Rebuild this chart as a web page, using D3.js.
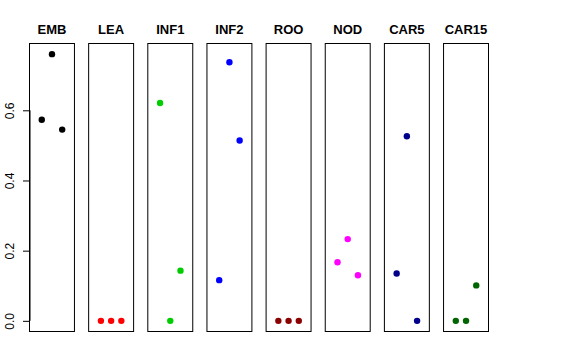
<!DOCTYPE html>
<html>
<head>
<meta charset="utf-8">
<script src="https://cdn.jsdelivr.net/npm/d3@7"></script>
<style>
  body { margin: 0; background: #fff; }
  svg { display: block; font-family: "Liberation Sans", Arial, sans-serif; }
</style>
</head>
<body>
<figure id="strip-chart" style="margin:0"></figure>
<script>
// panels, one per tissue
const categories = ["EMB", "LEA", "INF1", "INF2", "ROO", "NOD", "CAR5", "CAR15"];
const colors = ["#000000", "#FF0000", "#00CD00", "#0000FF", "#8B0000", "#FF00FF", "#00008B", "#006400"];

// three replicates per tissue
const EMB = [0.573, 0.760, 0.545];
const LEA = [0, 0, 0];
const INF1 = [0.621, 0, 0.143];
const INF2 = [0.116, 0.737, 0.514];
const ROO = [0, 0, 0];
const NOD = [0.167, 0.233, 0.130];
const CAR5 = [0.135, 0.526, 0];
const CAR15 = [0, 0, 0.101];
const seriesValues = [EMB, LEA, INF1, INF2, ROO, NOD, CAR5, CAR15];

const yTicks = [0, 0.2, 0.4, 0.6];
const yTickLabels = ["0.0", "0.2", "0.4", "0.6"];

const width = 576, height = 360;
const plotTop = 43.5, plotBottom = 331.5;

const svg = d3.select("figure#strip-chart")
  .append("svg")
  .attr("width", width)
  .attr("height", height);

// shared y scale, R-style 4% padding
const yMax = d3.max(seriesValues, s => d3.max(s));
const pad = yMax * 0.04;
const yScale = d3.scaleLinear()
  .domain([-pad, yMax + pad])
  .range([plotBottom, plotTop]);

const panelScale = d3.scaleBand()
  .domain(categories)
  .range([29.5, 488.5])
  .paddingInner(0.24)
  .paddingOuter(0);

const bw = panelScale.bandwidth();
const innerX = d3.scaleLinear().domain([-0.2, 4.2]).range([0, bw]);

categories.forEach((cat, i) => {
  const g = svg.append("g")
    .attr("transform", "translate(" + panelScale(cat) + ",0)");

  g.append("rect")
    .attr("x", 0)
    .attr("y", plotTop)
    .attr("width", bw)
    .attr("height", plotBottom - plotTop)
    .attr("fill", "none")
    .attr("stroke", "#000")
    .attr("stroke-width", 1);

  g.append("text")
    .attr("x", bw / 2)
    .attr("y", 34)
    .attr("text-anchor", "middle")
    .style("font-weight", "bold")
    .style("font-size", "13px")
    .text(cat);

  g.selectAll("circle")
    .data(seriesValues[i])
    .enter()
    .append("circle")
    .attr("cx", (d, j) => innerX(j + 1))
    .attr("cy", d => yScale(d))
    .attr("r", 3.2)
    .attr("fill", colors[i]);
});

// y axis on the first panel only
const yAxis = svg.append("g")
  .attr("transform", "translate(" + Math.round(panelScale(categories[0])) + ",0)")
  .call(d3.axisLeft(yScale)
    .tickValues(yTicks)
    .tickFormat((d, i) => yTickLabels[i])
    .tickSize(7)
    .tickPadding(6));

yAxis.select(".domain")
  .attr("d", "M0," + yScale(yTicks[0]) + "V" + yScale(yTicks[yTicks.length - 1]));
yAxis.selectAll("line").attr("stroke", "#000");
yAxis.selectAll("text")
  .attr("transform", "rotate(-90)")
  .attr("x", 0)
  .attr("y", 0)
  .attr("dx", 0)
  .attr("dy", 0)
  .style("text-anchor", "middle")
  .style("font-size", "12px")
  .style("font-family", "Liberation Sans, Arial, sans-serif")
  .attr("fill", "#000")
  .each(function () {
    const t = d3.select(this.parentNode).attr("transform");
    const ty = +t.match(/,([\d.\-]+)\)/)[1];
    d3.select(this.parentNode).attr("transform", "translate(0," + ty + ")");
    d3.select(this).attr("transform", "translate(-16.5,0) rotate(-90)");
  });
</script>
</body>
</html>
